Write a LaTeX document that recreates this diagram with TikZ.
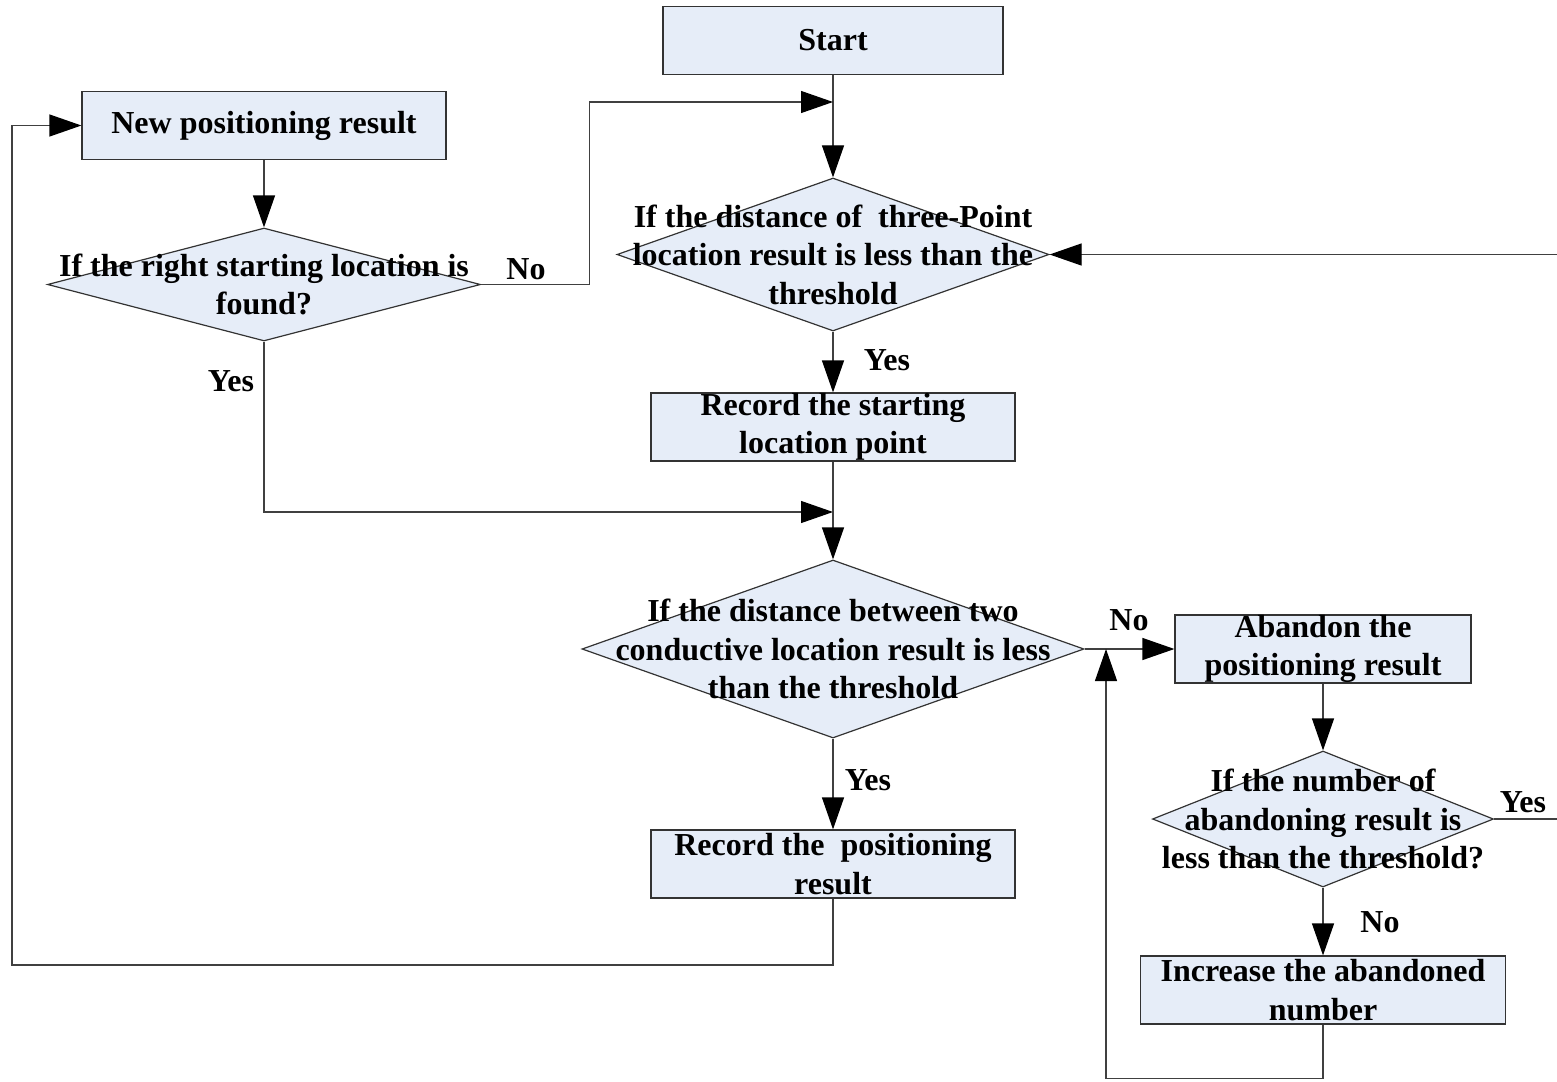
\documentclass[tikz,border=0pt]{standalone}
\usepackage{fontspec}
\setmainfont{Liberation Serif}
\usepackage{xcolor}
\usetikzlibrary{arrows.meta,shapes.geometric}
\definecolor{boxfill}{RGB}{230,237,248}
\newcommand{\flowfont}{\fontsize{32}{38.5}\selectfont\bfseries}

\begin{document}
\begin{tikzpicture}[x=1pt, y=-1pt, line width=1.2pt,
    every node/.style={font=\flowfont},
    procbox/.style={draw=black!80, fill=boxfill, align=center, inner sep=0pt, minimum height=68pt},
    decision/.style={draw=black!80, fill=boxfill, diamond, inner sep=0pt},
    dtext/.style={align=center, inner sep=0pt},
    flow/.style={draw=black!75, -{Triangle[length=32pt, width=22pt, color=black]}}]
    \useasboundingbox (0,0) rectangle (1557,1081);
    % Boxes
    \node[procbox, minimum width=340pt] (start) at (833,40.5) {Start};
    \node[procbox, minimum width=364pt] (newpos) at (264,125.5) {New positioning result};
    \node[procbox, minimum width=364pt] (recstart) at (833,427) {Record the starting\\location point};
    \node[procbox, minimum width=364pt] (recpos) at (833,864) {Record the\ \ positioning\\result};
    \node[procbox, minimum width=296pt] (abandon) at (1323,649) {Abandon the\\positioning result};
    \node[procbox, minimum width=365pt] (increase) at (1323,990) {Increase the abandoned\\number};
    % Decisions
    \node[decision, minimum width=433pt, minimum height=113pt,
          label={[dtext]center:If the right starting location is\\found?}] (rightloc) at (264,284.5) {};
    \node[decision, minimum width=432pt, minimum height=153pt,
          label={[dtext]center:If the distance of\ \ three-Point\\location result is less than the\\threshold}] (threept) at (833,254.5) {};
    \node[decision, minimum width=502pt, minimum height=178pt,
          label={[dtext]center:If the distance between two\\conductive location result is less\\than the threshold}] (twoloc) at (833,649) {};
    \node[decision, minimum width=341pt, minimum height=136pt,
          label={[dtext]center:If the number of\\abandoning result is\\less than the threshold?}] (abnum) at (1323,819) {};
    % Junctions
    \coordinate (topjoin) at (833,102);
    \coordinate (midjoin) at (833,512);
    \coordinate (lowjoin) at (1106,649);
    \coordinate (leftloop) at (12,965);
    \coordinate (rightin) at (1557,254.5);
    \coordinate (rightout) at (1557,819);
    % Edges
    \draw[flow] (start) -- (threept);
    \draw[flow] (newpos) -- (rightloc);
    % Right start location: No
    \draw[flow] (rightloc.east) -- ++(108,0) |- (topjoin);
    % Right start location: Yes
    \draw[flow] (rightloc.south) |- (midjoin);
    \draw[flow] (threept) -- (recstart);
    \draw[flow] (recstart) -- (twoloc);
    \draw[flow] (twoloc.east) -- (abandon.west);
    \draw[flow] (twoloc) -- (recpos);
    \draw[flow] (abandon) -- (abnum);
    \draw[flow] (abnum) -- (increase);
    % Loops back
    \draw[flow] (increase.south) -- ++(0,54) -| (lowjoin);
    \draw[flow] (recpos.south) |- (leftloop) |- (newpos.west);
    \draw[flow] (rightin) -- (threept.east);
    \draw[draw=black!75] (abnum.east) -- (rightout);
    % Labels
    \node (no1) at (526,269) {No};
    \node (yes1) at (231,381) {Yes};
    \node (yes2) at (887,360) {Yes};
    \node (no2) at (1129,620) {No};
    \node (yes3) at (868,780) {Yes};
    \node (no3) at (1380,922) {No};
    \node (yes4) at (1523,802) {Yes};
\end{tikzpicture}
\end{document}
